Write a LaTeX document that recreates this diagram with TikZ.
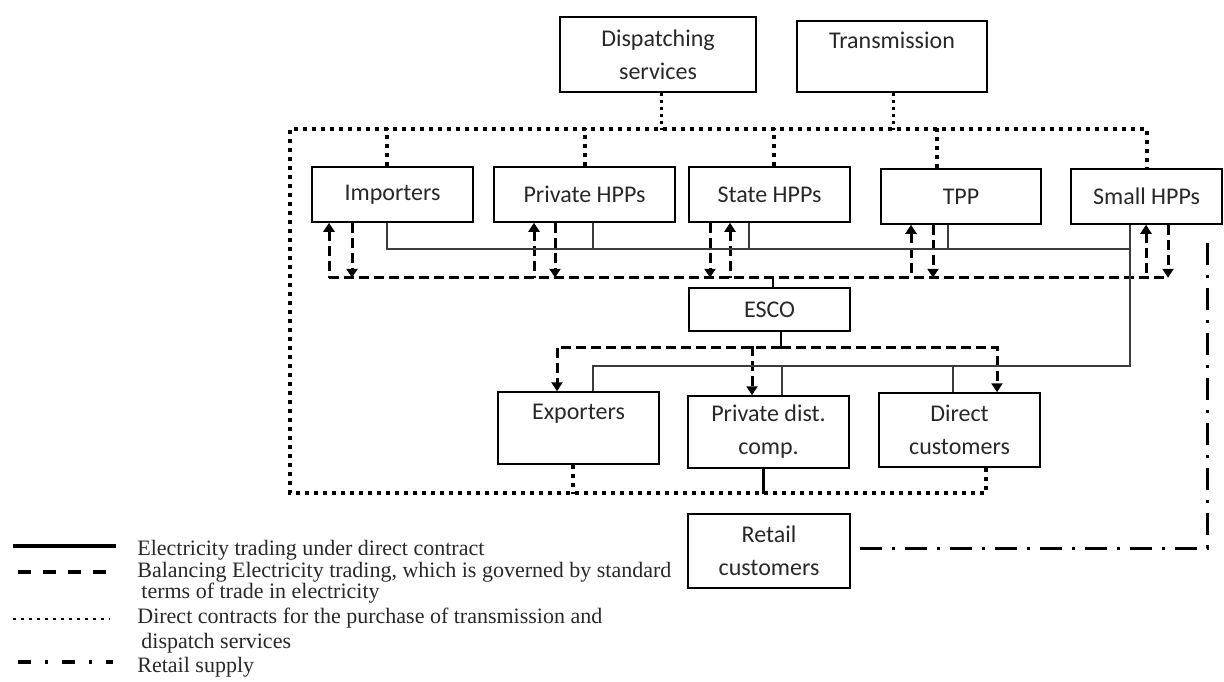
\documentclass[tikz,border=0pt]{standalone}
\usepackage{fontspec}
\newfontfamily\boxfont{Carlito}
\newfontfamily\legfont{Liberation Serif}
\usepackage{tikz}
\usetikzlibrary{arrows.meta,calc}
\definecolor{linegray}{RGB}{60,60,60}
\definecolor{textgray}{RGB}{40,40,40}

\begin{document}
\begin{tikzpicture}[x=0.5pt,y=-0.5pt,>={Triangle[width=5.5pt,length=4.5pt]},
  box/.style={draw,line width=0.75pt,align=center,inner sep=0pt,text=textgray,font=\boxfont\fontsize{12}{16.5}\selectfont},
  svc/.style={line width=2pt,dash pattern=on 2pt off 2.5pt},
  svcthin/.style={line width=1.5pt,dash pattern=on 1.5pt off 2pt},
  bal/.style={line width=1.5pt,dash pattern=on 5pt off 2.5pt},
  dir/.style={line width=0.8pt,linegray},
  retail/.style={line width=1.5pt,dash pattern=on 11pt off 5pt on 1.5pt off 5pt},
  legtext/.style={anchor=base west,inner sep=0pt,text=textgray,font=\legfont\fontsize{11}{12}\selectfont}]
\useasboundingbox (0,0) rectangle (1224,681);
% services
\node[box,minimum width=98pt,minimum height=37.5pt] (disp) at (658,54.5) {Dispatching\\services};
\node[box,minimum width=95pt,minimum height=35.5pt] (trans) at (892,56.5) {Transmission\\~};
% producers
\node[box,minimum width=80.5pt,minimum height=27.5pt] (imp) at (392.5,194.5) {Importers};
\node[box,minimum width=90.5pt,minimum height=27.5pt] (phpp) at (584.5,194.5) {Private HPPs};
\node[box,minimum width=80.5pt,minimum height=27.5pt] (shpp) at (769.5,194.5) {State HPPs};
\node[box,minimum width=80pt,minimum height=27.5pt] (tpp) at (961,196.5) {TPP};
\node[box,minimum width=75.5pt,minimum height=27.5pt] (small) at (1146.5,196.5) {Small HPPs};
\node[box,minimum width=80.5pt,minimum height=21.5pt] (esco) at (769.5,309.5) {ESCO};
% buyers
\node[box,minimum width=80.5pt,minimum height=36pt] (exp) at (578.5,428) {Exporters\\~};
\node[box,minimum width=80.5pt,minimum height=36pt] (pdc) at (768.5,432) {Private dist.\\comp.};
\node[box,minimum width=80.5pt,minimum height=37pt] (dcu) at (959.5,430) {Direct\\customers};
\node[box,minimum width=81pt,minimum height=37pt] (ret) at (769,551) {Retail\\customers};

% transmission and dispatch contracts
\coordinate (busTL) at (290,129);
\coordinate (busBL) at (290,493);
\draw[svcthin] (disp.south) ++(3,0) -- ++(0,37);
\draw[svcthin] (trans.south) ++(1,0) -- ++(0,37);
\draw[svc] ($(dcu.south)+(26.5,0)$) |- (busBL) -- (busTL) -| (small.north);
\foreach \n/\dx/\h in {imp/-5.5/38,phpp/0/38,shpp/4.5/38,tpp/-24/40}
  \draw[svc] ($(\n.north)+(\dx,0)$) -- ++(0,-\h);
\draw[svc] ($(exp.south)+(-5.5,0)$) -- ++(0,29);
\draw[line width=1.5pt] ($(pdc.south)+(-5.5,0)$) -- ++(0,25);

% balancing trade
\coordinate (balL) at (329,277);
\coordinate (balR) at (1168,277);
\draw[bal] (balL) -- (balR);
\foreach \n/\u/\d/\h in {imp/-63.5/-40.5/55,phpp/-50.5/-29.5/55,shpp/-39.5/-59.5/55,tpp/-50/-28/53,small/-0.5/21.5/53}{
  \draw[bal,<-] ($(\n.south)+(\u,0)$) -- ++(0,\h);
  \draw[bal,->] ($(\n.south)+(\d,0)$) -- ++(0,\h);
}
\draw[line width=1pt] ($(esco.north)+(3.5,0)$) -- ++(0,-11);
\coordinate (escobus) at (781,347);
\draw[line width=1pt] (esco.south -| escobus) -- (escobus);
\draw[bal,->] (escobus) -| ($(exp.north)+(-21.5,0)$);
\draw[bal,->] (escobus) -| ($(dcu.north)+(37.5,0)$);
\draw[bal,->] ($(pdc.north)+(-16.5,-49)$) -- ($(pdc.north)+(-16.5,0)$);

% direct contracts
\coordinate (hub) at (1130,249);
\coordinate (lowL) at (593,366);
\draw[dir] ($(imp.south)+(-5.5,0)$) |- (hub);
\draw[dir] (small.south -| hub) |- (lowL) -- (exp.north -| lowL);
\draw[dir] ($(phpp.south)+(8.5,0)$) -- ++(0,27);
\draw[dir] ($(shpp.south)+(-20.5,0)$) -- ++(0,27);
\draw[dir] ($(tpp.south)+(-13,0)$) -- ++(0,25);
\draw[dir] ($(pdc.north)+(13.5,0)$) -- ++(0,-30);
\draw[dir] ($(dcu.north)+(-6.5,0)$) -- ++(0,-27);

% retail supply
\coordinate (rtop) at (1207,243);
\draw[retail] ($(ret.east)+(9,-3)$) -| (rtop);

% legend
\node[legtext] (lg1) at (137,555) {Electricity trading under direct contract};
\node[legtext] (lg2) at (137,577) {Balancing Electricity trading, which is governed by standard};
\node[legtext] (lg2b) at (141,598) {terms of trade in electricity};
\node[legtext] (lg3) at (137,623) {Direct contracts for the purchase of transmission and};
\node[legtext] (lg3b) at (141,648) {dispatch services};
\node[legtext] (lg4) at (137,672) {Retail supply};
\draw[line width=2pt] (13,546) -- (116,546);
\draw[line width=2pt,dash pattern=on 6.5pt off 6pt] (18,572) -- (110,572);
\draw[line width=1.2pt,dash pattern=on 1.3pt off 2.7pt] (13,619) -- (110,619);
\draw[line width=2pt,dash pattern=on 6.5pt off 7pt on 1.5pt off 7pt] (18,662) -- (113,662);
\end{tikzpicture}
\end{document}
